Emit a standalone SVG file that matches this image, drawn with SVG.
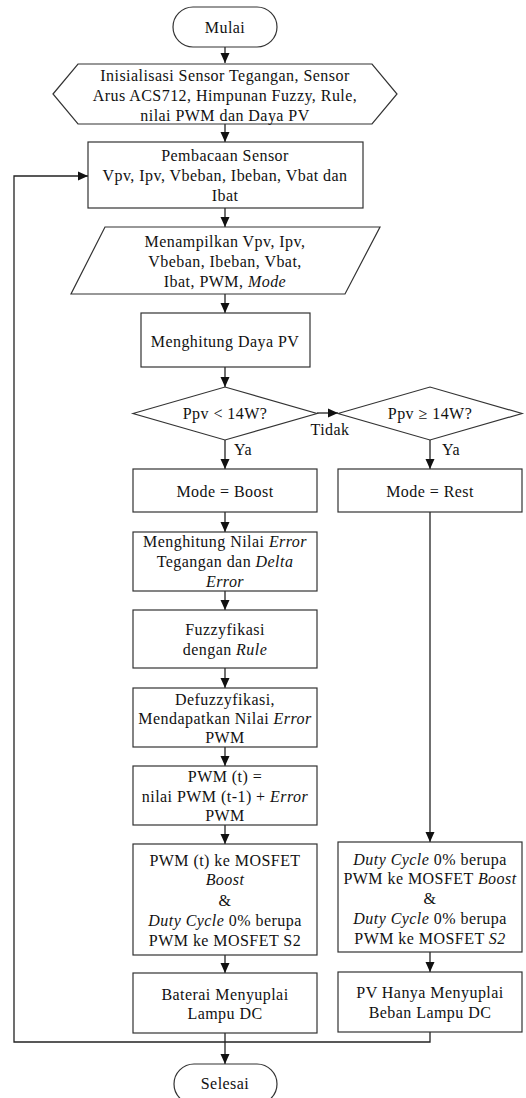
<svg xmlns="http://www.w3.org/2000/svg" width="526" height="1098" viewBox="0 0 526 1098">
<style>
.s{fill:#fff;stroke:#333;stroke-width:1.2}
.c{fill:none;stroke:#222;stroke-width:1.3}
text{font-family:"Liberation Serif","Times New Roman",serif;font-size:16px;letter-spacing:0.45px;fill:#111;text-anchor:middle;dominant-baseline:central}
.i{font-style:italic}
.l{text-anchor:start}
</style>
<defs>
<marker id="ah" markerUnits="userSpaceOnUse" markerWidth="10" markerHeight="10" refX="10" refY="5" orient="auto">
<path d="M0,0.5 L10,5 L0,9.5 z" fill="#111"/>
</marker>
</defs>
<rect width="526" height="1098" fill="#fff"/>
<g id="connectors">
<path class="c" marker-end="url(#ah)" d="M225,47 V63"/>
<path class="c" marker-end="url(#ah)" d="M225,124 V142"/>
<path class="c" marker-end="url(#ah)" d="M225,208 V227"/>
<path class="c" marker-end="url(#ah)" d="M225,294 V313"/>
<path class="c" marker-end="url(#ah)" d="M225,367 V387"/>
<path class="c" marker-end="url(#ah)" d="M317,413 H338"/>
<path class="c" marker-end="url(#ah)" d="M225,440 V469"/>
<path class="c" marker-end="url(#ah)" d="M430,440 V469"/>
<path class="c" marker-end="url(#ah)" d="M225,512 V532"/>
<path class="c" marker-end="url(#ah)" d="M225,591 V610"/>
<path class="c" marker-end="url(#ah)" d="M225,668 V688"/>
<path class="c" marker-end="url(#ah)" d="M225,747 V766"/>
<path class="c" marker-end="url(#ah)" d="M225,825 V844"/>
<path class="c" marker-end="url(#ah)" d="M430,512 V842"/>
<path class="c" marker-end="url(#ah)" d="M225,955 V973"/>
<path class="c" marker-end="url(#ah)" d="M430,952 V972"/>
<path class="c" marker-end="url(#ah)" d="M225,1033 V1064"/>
<path class="c" marker-end="url(#ah)" d="M430,1032 V1042 H14 V176 H88"/>
<text x="330" y="429">Tidak</text>
<text class="l" x="234" y="449">Ya</text>
<text class="l" x="442" y="449">Ya</text>
</g>
<g id="mulai">
<rect class="s" x="173" y="7" width="104" height="40" rx="20"/>
<text x="225" y="27">Mulai</text>
</g>
<g id="inisialisasi">
<polygon class="s" points="53,94 78,64 372,64 397,94 372,124 78,124"/>
<text x="225" y="75">Inisialisasi Sensor Tegangan, Sensor</text>
<text x="225" y="95">Arus ACS712, Himpunan Fuzzy, Rule,</text>
<text x="225" y="115">nilai PWM dan Daya PV</text>
</g>
<g id="pembacaan">
<rect class="s" x="88" y="142" width="275" height="66"/>
<text x="225" y="155">Pembacaan Sensor</text>
<text x="225" y="175">Vpv, Ipv, Vbeban, Ibeban, Vbat dan</text>
<text x="225" y="195">Ibat</text>
</g>
<g id="menampilkan">
<polygon class="s" points="105,227 380,227 345,294 71,294"/>
<text x="225" y="241">Menampilkan Vpv, Ipv,</text>
<text x="225" y="261">Vbeban, Ibeban, Vbat,</text>
<text x="225" y="281">Ibat, PWM, <tspan class="i">Mode</tspan></text>
</g>
<g id="daya">
<rect class="s" x="141" y="313" width="169" height="54"/>
<text x="225" y="341">Menghitung Daya PV</text>
</g>
<g id="dec1">
<polygon class="s" points="133,413.5 225,387 317,413.5 225,440"/>
<text x="225" y="413">Ppv &lt; 14W?</text>
</g>
<g id="dec2">
<polygon class="s" points="338,413.5 430,387 522,413.5 430,440"/>
<text x="430" y="413">Ppv ≥ 14W?</text>
</g>
<g id="boost">
<rect class="s" x="133" y="469" width="184" height="43"/>
<text x="225" y="491">Mode = Boost</text>
</g>
<g id="rest">
<rect class="s" x="338" y="469" width="184" height="43"/>
<text x="430" y="491">Mode = Rest</text>
</g>
<g id="error">
<rect class="s" x="133" y="532" width="184" height="59"/>
<text x="225" y="541">Menghitung Nilai <tspan class="i">Error</tspan></text>
<text x="225" y="561">Tegangan dan <tspan class="i">Delta</tspan></text>
<text x="225" y="581" class="i">Error</text>
</g>
<g id="fuzzy">
<rect class="s" x="133" y="610" width="184" height="58"/>
<text x="225" y="629">Fuzzyfikasi</text>
<text x="225" y="649">dengan <tspan class="i">Rule</tspan></text>
</g>
<g id="defuzzy">
<rect class="s" x="133" y="688" width="184" height="59"/>
<text x="225" y="699">Defuzzyfikasi,</text>
<text x="225" y="718">Mendapatkan Nilai <tspan class="i">Error</tspan></text>
<text x="225" y="737">PWM</text>
</g>
<g id="pwm">
<rect class="s" x="133" y="766" width="184" height="59"/>
<text x="225" y="776">PWM (t) =</text>
<text x="225" y="796">nilai PWM (t-1) + <tspan class="i">Error</tspan></text>
<text x="225" y="815">PWM</text>
</g>
<g id="mosfet-left">
<rect class="s" x="133" y="844" width="184" height="111"/>
<text x="225" y="860">PWM (t) ke MOSFET</text>
<text x="225" y="879" class="i">Boost</text>
<text x="225" y="900">&amp;</text>
<text x="225" y="920"><tspan class="i">Duty Cycle</tspan> 0% berupa</text>
<text x="225" y="940">PWM ke MOSFET S2</text>
</g>
<g id="mosfet-right">
<rect class="s" x="338" y="842" width="184" height="110"/>
<text x="430" y="859"><tspan class="i">Duty Cycle</tspan> 0% berupa</text>
<text x="430" y="878">PWM ke MOSFET <tspan class="i">Boost</tspan></text>
<text x="430" y="898">&amp;</text>
<text x="430" y="918"><tspan class="i">Duty Cycle</tspan> 0% berupa</text>
<text x="430" y="938">PWM ke MOSFET <tspan class="i">S2</tspan></text>
</g>
<g id="baterai">
<rect class="s" x="133" y="973" width="184" height="60"/>
<text x="225" y="994">Baterai Menyuplai</text>
<text x="225" y="1013">Lampu DC</text>
</g>
<g id="pv">
<rect class="s" x="338" y="972" width="184" height="60"/>
<text x="430" y="992">PV Hanya Menyuplai</text>
<text x="430" y="1012">Beban Lampu DC</text>
</g>
<g id="selesai">
<rect class="s" x="174" y="1064" width="103" height="40" rx="20"/>
<text x="225" y="1083">Selesai</text>
</g>
</svg>
